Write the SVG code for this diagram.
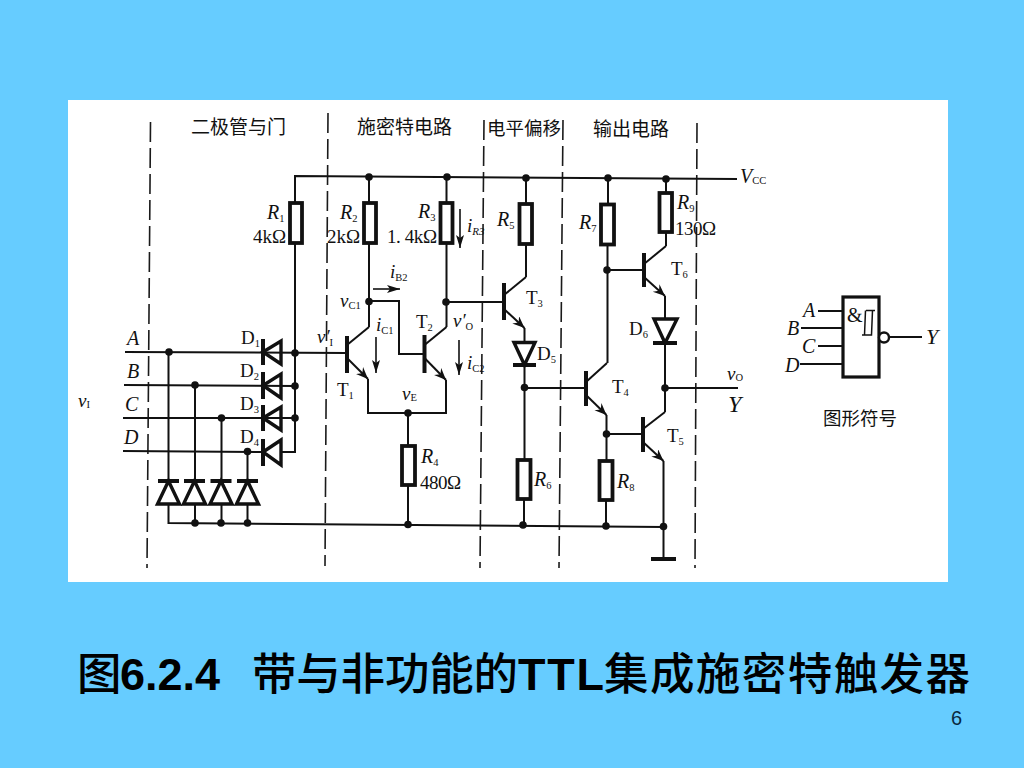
<svg xmlns="http://www.w3.org/2000/svg" width="1024" height="768" viewBox="0 0 1024 768">
<style>
text{font-family:"Liberation Serif","Noto Sans CJK SC",serif;font-size:19px;fill:#111}
.i{font-style:italic}
.s{font-size:10.500px;font-style:normal}
.si{font-size:11px;font-style:italic}
.cn{font-family:"Noto Sans CJK SC",sans-serif;font-weight:400;font-size:19px}
.ti{font-family:"Noto Sans CJK SC",sans-serif;font-weight:500;font-size:44.500px;fill:#000}
.tb{font-family:"Liberation Sans",Arial,sans-serif;font-weight:700;font-size:45px;fill:#000}
.w{fill:none;stroke:#111;stroke-width:2}
.d{fill:none;stroke:#1a1a1a;stroke-width:1.600;stroke-dasharray:20 6}
.r{fill:#fff;stroke:#111;stroke-width:3.800}
.b{fill:none;stroke:#111;stroke-width:4}
.t{fill:none;stroke:#111;stroke-width:3.400}
.j{fill:#111}
.e{fill:none;stroke:#111;stroke-width:2;marker-end:url(#em)}
.c{fill:none;stroke:#111;stroke-width:1.600;marker-end:url(#cur)}
</style>
<defs>
<marker id="em" markerUnits="userSpaceOnUse" markerWidth="14" markerHeight="12" refX="12" refY="5" orient="auto"><path d="M0,0 L12,5 L0,10 L4,5 Z" fill="#111"/></marker>
<marker id="cur" markerUnits="userSpaceOnUse" markerWidth="16" markerHeight="10" refX="13" refY="4" orient="auto"><path d="M0,0 L13,4 L0,8 L3,4 Z" fill="#111"/></marker>
</defs>
<rect width="1024" height="768" fill="#66CCFF"/>
<rect x="68" y="100" width="880" height="482" fill="#fff"/>
<g id="dividers">
<path class="d" d="M150.500,122 L147,568"/>
<path class="d" d="M328,113 L325,566"/>
<path class="d" d="M484,120 L480,568"/>
<path class="d" d="M563,120 L559,568"/>
<path class="d" d="M697,123 L695,568"/>
</g>
<g id="section-labels">
<text class="cn" x="191" y="134">二极管与门</text>
<text class="cn" x="357" y="134">施密特电路</text>
<text class="cn" x="487" y="135" style="font-size:18.500px">电平偏移</text>
<text class="cn" x="593" y="136">输出电路</text>
</g>
<g id="connectors">
<path class="w" d="M295,203 V176 L737,179"/>
<path class="w" d="M295,243 V452 H281"/>
<path class="w" d="M125,352 L347,353"/>
<path class="w" d="M124,385 L295,386"/>
<path class="w" d="M123,418 L295,418"/>
<path class="w" d="M123,451 L265,452"/>
<path class="w" d="M168.500,352 V481 M168.500,504 V523 L664,527"/>
<path class="w" d="M195,385 V481 M195,504 V523"/>
<path class="w" d="M221.500,418 V481 M221.500,504 V523"/>
<path class="w" d="M247.500,451 V481 M247.500,504 V523"/>
<path class="w" d="M369,177 V203 M369,243 V327"/>
<path class="w" d="M369,301 H399 V354 H424"/>
<path class="w" d="M446.500,177 V203 M446.500,243 V327"/>
<path class="w" d="M446,302 H504"/>
<path class="w" d="M526,178 V204 M526,244 V277"/>
<path class="w" d="M368,379 V413 H446 V380"/>
<path class="w" d="M408,413 V446 M408,485 V524"/>
<path class="w" d="M524.500,328 V342 M524.500,365 V460 M524,499 V525"/>
<path class="w" d="M524.500,388 H586"/>
<path class="w" d="M608,178 V204 M607.500,244 V363"/>
<path class="w" d="M607,270 H644"/>
<path class="w" d="M666,179 V193 M666,232 V246"/>
<path class="w" d="M665,296 V318 M665,343 V412"/>
<path class="w" d="M665,388 H738"/>
<path class="w" d="M606.500,415 V461 M606,500 V526"/>
<path class="w" d="M606.500,434 H643"/>
<path class="w" d="M663.500,461 V559"/>
<path class="c" d="M373,289 H400"/>
<path class="c" d="M376,337 V373"/>
<path class="c" d="M459,340 V375"/>
<path class="c" d="M460,209 V248"/>
</g>
<g id="junctions">
<circle class="j" cx="169" cy="352" r="3.800"/><circle class="j" cx="195" cy="385" r="3.800"/><circle class="j" cx="221.500" cy="418" r="3.800"/><circle class="j" cx="247.500" cy="451.500" r="3.800"/>
<circle class="j" cx="295" cy="353" r="3.800"/><circle class="j" cx="295" cy="386" r="3.800"/><circle class="j" cx="295" cy="418" r="3.800"/>
<circle class="j" cx="195" cy="523" r="3.800"/><circle class="j" cx="221" cy="523" r="3.800"/><circle class="j" cx="247.500" cy="523" r="3.800"/>
<circle class="j" cx="369" cy="177" r="3.800"/><circle class="j" cx="447" cy="177" r="3.800"/><circle class="j" cx="526" cy="178" r="3.800"/><circle class="j" cx="608" cy="178" r="3.800"/><circle class="j" cx="666" cy="179" r="3.800"/>
<circle class="j" cx="369" cy="301.500" r="3.800"/><circle class="j" cx="446" cy="302" r="3.800"/><circle class="j" cx="607" cy="270" r="3.800"/>
<circle class="j" cx="408" cy="413" r="3.800"/><circle class="j" cx="524.500" cy="387.500" r="3.800"/><circle class="j" cx="665" cy="388" r="3.800"/><circle class="j" cx="606.500" cy="434" r="3.800"/>
<circle class="j" cx="408" cy="524.500" r="3.800"/><circle class="j" cx="523" cy="525" r="3.800"/><circle class="j" cx="606" cy="526" r="3.800"/><circle class="j" cx="663.500" cy="526.500" r="3.800"/>
</g>
<g id="R1"><rect class="r" x="290" y="203" width="12" height="40"/><text class="i" x="267" y="219" style="font-size:20px">R<tspan class="s" dy="3">1</tspan></text><text x="253" y="243" textLength="33">4kΩ</text></g>
<g id="R2"><rect class="r" x="364" y="203" width="12" height="40"/><text class="i" x="340" y="219" style="font-size:20px">R<tspan class="s" dy="3">2</tspan></text><text x="327" y="243" textLength="33">2kΩ</text></g>
<g id="R3"><rect class="r" x="440.500" y="203" width="12" height="40"/><text class="i" x="418" y="218" style="font-size:20px">R<tspan class="s" dy="3">3</tspan></text><text x="387" y="243" textLength="50">1. 4kΩ</text></g>
<g id="iR3"><text class="i" x="467" y="232">i<tspan class="si" dy="3">R3</tspan></text></g>
<g id="R4"><rect class="r" x="402" y="446" width="13" height="39"/><text class="i" x="421" y="463" style="font-size:20px">R<tspan class="s" dy="3">4</tspan></text><text x="420" y="489" textLength="41">480Ω</text></g>
<g id="R5"><rect class="r" x="519.500" y="204" width="12.500" height="40"/><text class="i" x="497" y="226" style="font-size:20px">R<tspan class="s" dy="3">5</tspan></text></g>
<g id="R6"><rect class="r" x="517.500" y="460" width="13" height="39"/><text class="i" x="534" y="486" style="font-size:20px">R<tspan class="s" dy="3">6</tspan></text></g>
<g id="R7"><rect class="r" x="601" y="204.500" width="13" height="40"/><text class="i" x="579" y="229" style="font-size:20px">R<tspan class="s" dy="3">7</tspan></text></g>
<g id="R8"><rect class="r" x="599.500" y="461" width="13" height="39"/><text class="i" x="617" y="488" style="font-size:20px">R<tspan class="s" dy="3">8</tspan></text></g>
<g id="R9"><rect class="r" x="659.500" y="193" width="12.500" height="39"/><text class="i" x="677" y="209" style="font-size:20px">R<tspan class="s" dy="3">9</tspan></text><text x="675" y="235" textLength="41">130Ω</text></g>
<g id="D1"><path class="b" d="M263,339 V365"/><path class="t" d="M263,352 L281,341 V364 Z"/><text x="241" y="344">D<tspan class="s" dy="3">1</tspan></text></g>
<g id="D2"><path class="b" d="M263,372 V399"/><path class="t" d="M263,385.500 L281,374 V398 Z"/><text x="240" y="377">D<tspan class="s" dy="3">2</tspan></text></g>
<g id="D3"><path class="b" d="M263,405 V431"/><path class="t" d="M263,418 L281,407 V430 Z"/><text x="240" y="410">D<tspan class="s" dy="3">3</tspan></text></g>
<g id="D4"><path class="b" d="M263,439 V466"/><path class="t" d="M263,452 L281,440 V465 Z"/><text x="240" y="443">D<tspan class="s" dy="3">4</tspan></text></g>
<g id="DA"><path class="b" d="M158,481 H179"/><path class="t" d="M168.500,481 L157.500,504 H179.500 Z"/></g>
<g id="DB"><path class="b" d="M184,481 H205"/><path class="t" d="M194.500,481 L183.500,504 H205.500 Z"/></g>
<g id="DC"><path class="b" d="M210.500,481 H231.500"/><path class="t" d="M221,481 L210,504 H232 Z"/></g>
<g id="DD"><path class="b" d="M237,481 H258"/><path class="t" d="M247.500,481 L236.500,504 H258.500 Z"/></g>
<g id="D5"><path class="b" d="M513,365 H536"/><path class="t" d="M524.500,365 L514,342.500 H535 Z"/><text x="537" y="360">D<tspan class="s" dy="3">5</tspan></text></g>
<g id="D6"><path class="b" d="M653,343 H677"/><path class="t" d="M665,343 L654,319 H677 Z"/><text x="629" y="335">D<tspan class="s" dy="3">6</tspan></text></g>
<g id="T1"><path class="b" d="M347,336 V373"/><path class="w" d="M347,345 L369,327"/><path class="e" d="M347,358 L368,379"/><text x="337" y="396">T<tspan class="s" dy="3">1</tspan></text></g>
<g id="T2"><path class="b" d="M424.500,335 V373"/><path class="w" d="M424.500,345 L446.500,327"/><path class="e" d="M424.500,358 L446,380"/><text x="416" y="328">T<tspan class="s" dy="3">2</tspan></text></g>
<g id="T3"><path class="b" d="M504,283 V320"/><path class="w" d="M504,295 L526,277"/><path class="e" d="M504,309 L524.500,328"/><text x="526" y="304">T<tspan class="s" dy="3">3</tspan></text></g>
<g id="T4"><path class="b" d="M586,371 V406"/><path class="w" d="M586,382 L607,363"/><path class="e" d="M586,395 L606.500,415"/><text x="612" y="393">T<tspan class="s" dy="3">4</tspan></text></g>
<g id="T5"><path class="b" d="M643,417 V452"/><path class="w" d="M643,429 L665,412"/><path class="e" d="M643,442 L663.500,461"/><text x="667" y="442">T<tspan class="s" dy="3">5</tspan></text></g>
<g id="T6"><path class="b" d="M644,253 V287"/><path class="w" d="M644,264 L666,246"/><path class="e" d="M644,277 L665,296"/><text x="671" y="275">T<tspan class="s" dy="3">6</tspan></text></g>
<g id="ground"><path class="b" d="M651,559 H676"/></g>
<g id="circuit-labels">
<text class="i" x="740" y="183" style="font-size:20px">V<tspan class="s" dy="1" dx="0">CC</tspan></text>
<text class="i" x="390" y="278">i<tspan class="s" dy="3">B2</tspan></text>
<text class="i" x="340" y="307">v<tspan class="s" dy="2">C1</tspan></text>
<text class="i" x="376" y="331">i<tspan class="s" dy="3">C1</tspan></text>
<text class="i" x="453" y="327">v′<tspan class="s" dy="3">O</tspan></text>
<text class="i" x="317" y="343">v′<tspan class="s" dy="3">I</tspan></text>
<text class="i" x="402" y="400">v<tspan class="s" dy="1">E</tspan></text>
<text class="i" x="467" y="369">i<tspan class="s" dy="3">C2</tspan></text>
<text class="i" x="127" y="345" style="font-size:20px">A</text>
<text class="i" x="127" y="378" style="font-size:20px">B</text>
<text class="i" x="125" y="411" style="font-size:20px">C</text>
<text class="i" x="124" y="444" style="font-size:20px">D</text>
<text class="i" x="78" y="407">v<tspan class="s" dy="1">I</tspan></text>
<text class="i" x="727" y="380">v<tspan class="s" dy="1">O</tspan></text>
<text class="i" x="728" y="412" style="font-size:24px">Y</text>
</g>
<g id="symbol">
<rect x="843" y="297" width="36" height="80" fill="#fff" stroke="#111" stroke-width="3.200"/>
<circle cx="884" cy="337.500" r="5" fill="#fff" stroke="#111" stroke-width="2.400"/>
<path class="w" d="M889,337 H922"/>
<path class="w" d="M818,311 H843 M801,328 H843 M818,346 H843 M800,364 H843"/>
<path fill="none" stroke="#111" stroke-width="1.500" d="M866,310.500 H875 M872.500,310.500 L871.500,335 H862 M865.500,310.500 L864.500,335"/>
<text x="847" y="322" style="font-size:20px">&amp;</text>
<text class="i" x="803" y="317" style="font-size:20px">A</text>
<text class="i" x="787" y="335" style="font-size:20px">B</text>
<text class="i" x="802" y="353" style="font-size:20px">C</text>
<text class="i" x="785" y="372" style="font-size:20px">D</text>
<text class="i" x="926" y="344" style="font-size:22px">Y</text>
<text class="cn" x="823" y="425" style="font-size:18.500px">图形符号</text>
</g>
<g id="title">
<text class="ti" x="77" y="690">图</text>
<text class="tb" x="120" y="690">6.2.4</text>
<text class="ti" x="252" y="690" textLength="266">带与非功能的</text>
<text class="tb" x="518" y="690" textLength="86">TTL</text>
<text class="ti" x="604" y="690" textLength="366">集成施密特触发器</text>
</g>
<text x="951" y="725" style="font-family:'Liberation Sans',Arial,sans-serif;font-size:20px;fill:#0a2a40">6</text>
</svg>
